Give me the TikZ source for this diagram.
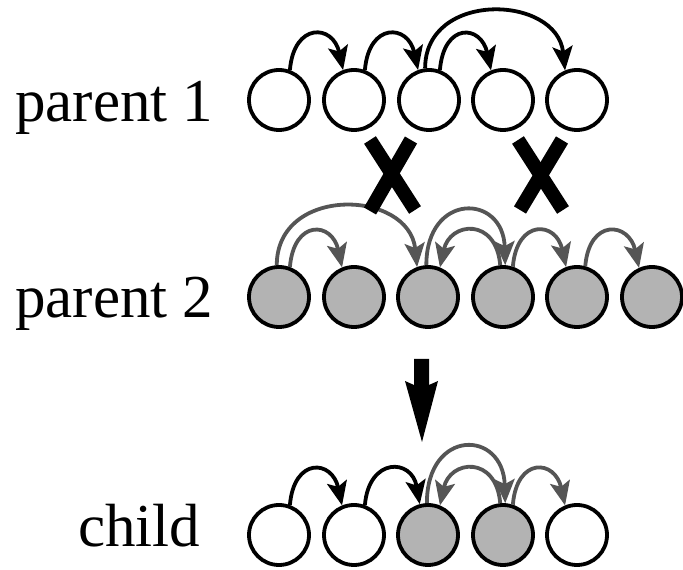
\documentclass[tikz,border=0pt]{standalone}
\usepackage{fontspec}
\setmainfont{Liberation Serif}
\usetikzlibrary{arrows.meta}
\definecolor{fillgray}{HTML}{B3B3B3}
\definecolor{arrowgray}{HTML}{555555}
\tikzset{
  cell/.style={circle,draw=black,line width=3.8pt,minimum size=60pt,inner sep=0pt,fill=white},
  gcell/.style={cell,fill=fillgray},
  conn/.style={line width=3.8pt,arrows={-Stealth[length=24pt,width=20pt,inset=5pt]}},
  bconn/.style={conn,draw=black},
  gconn/.style={conn,draw=arrowgray},
  lbl/.style={anchor=base west,inner sep=0pt,font=\fontsize{61}{70}\selectfont},
  crossbar/.style={line width=14pt,line cap=butt,draw=black},
  bigarrow/.style={fill=black,draw=none}
}
\begin{document}
\begin{tikzpicture}[x=1pt,y=1pt]
\useasboundingbox (0,0) rectangle (683,570);

% labels
\node[lbl] (l1) at (15,448) {parent 1};
\node[lbl] (l2) at (15,252) {parent 2};
\node[lbl] (l3) at (78,23) {child};

% parent 1
\node[cell] (a1) at (279,470) {};
\node[cell] (a2) at (354,470) {};
\node[cell] (a3) at (429,470) {};
\node[cell] (a4) at (503,470) {};
\node[cell] (a5) at (577,470) {};

% parent 2
\node[gcell] (b1) at (279,273) {};
\node[gcell] (b2) at (354,273) {};
\node[gcell] (b3) at (428,273) {};
\node[gcell] (b4) at (503,273) {};
\node[gcell] (b5) at (577,273) {};
\node[gcell] (b6) at (652,273) {};

% child
\node[cell] (c1) at (279,35) {};
\node[cell] (c2) at (354,35) {};
\node[gcell] (c3) at (428,35) {};
\node[gcell] (c4) at (503,35) {};
\node[cell] (c5) at (577,35) {};

% parent 1 links
\draw[bconn] (a1.70) .. controls +(4,48) and +(-10,46) .. (a2.110);
\draw[bconn] (a2.70) .. controls +(4,48) and +(-10,46) .. (a3.110);
\draw[bconn] (a3.70) .. controls +(4,48) and +(-10,46) .. (a4.112);
\draw[bconn] (a3.97) .. controls +(0,78) and +(-8,76) .. (a5.112);

% parent 2 links
\draw[gconn] (b1.70) .. controls +(4,48) and +(-10,46) .. (b2.112);
\draw[gconn] (b1.94) .. controls +(0,80) and +(-8,78) .. (b3.110);
\draw[gconn] (b4.95) .. controls +(-4,48) and +(10,46) .. (b3.68);
\draw[gconn] (b3.93) .. controls +(0,73) and +(-2,72) .. (b4.86);
\draw[gconn] (b4.72) .. controls +(4,48) and +(-10,46) .. (b5.110);
\draw[gconn] (b5.75) .. controls +(4,48) and +(-10,46) .. (b6.114);

% child links
\draw[bconn] (c1.70) .. controls +(4,48) and +(-10,46) .. (c2.112);
\draw[bconn] (c2.70) .. controls +(4,48) and +(-8,46) .. (c3.105);
\draw[gconn] (c3.92) .. controls +(0,75) and +(-2,74) .. (c4.86);
\draw[gconn] (c4.95) .. controls +(-4,48) and +(10,46) .. (c3.68);
\draw[gconn] (c4.72) .. controls +(4,48) and +(-10,46) .. (c5.112);

% crosses
\coordinate (x1a) at (370,430); \coordinate (x1b) at (415,360);
\coordinate (x1c) at (411,430); \coordinate (x1d) at (370,359);
\draw[crossbar] (x1a) -- (x1b);
\draw[crossbar] (x1c) -- (x1d);
\coordinate (x2a) at (518,430); \coordinate (x2b) at (563,360);
\coordinate (x2c) at (562,430); \coordinate (x2d) at (520,360);
\draw[crossbar] (x2a) -- (x2b);
\draw[crossbar] (x2c) -- (x2d);

% down arrow
\fill[bigarrow] (414,211) -- (429,211) -- (429,185) -- (438,189) -- (422,128) -- (405,189) -- (414,185) -- cycle;
\end{tikzpicture}
\end{document}
